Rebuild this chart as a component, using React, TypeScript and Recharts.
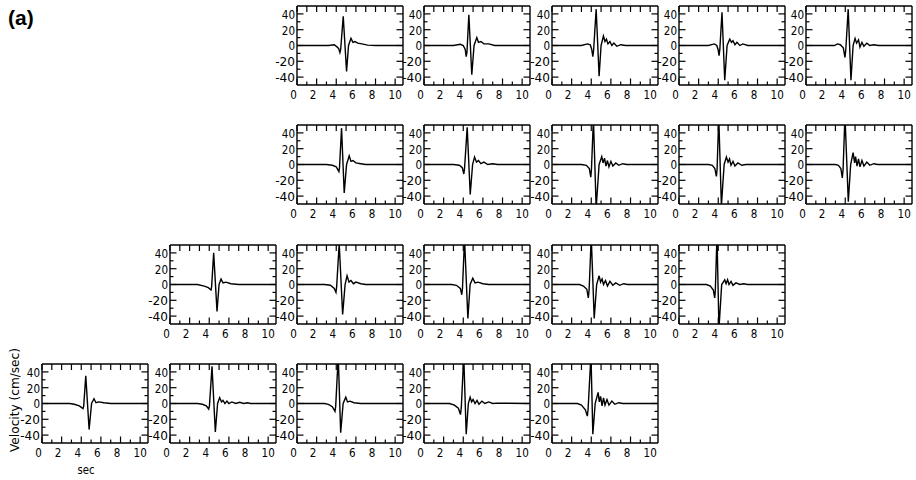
import React from "react";
import { LineChart, Line, XAxis, YAxis } from "recharts";

// axis ticks (sec / cm/sec)
const xTicks = [0, 1, 2, 3, 4, 5, 6, 7, 8, 9, 10];
const yTicks = [-40, -30, -20, -10, 0, 10, 20, 30, 40];

// velocity traces, [time (sec), velocity (cm/sec)]
const r1p1 = [[0, 0], [3.2, 0], [3.8, 1], [4.1, -2], [4.25, -4], [4.37, -9], [4.45, -5], [4.71, 37], [5.05, -33], [5.25, 0], [5.5, 9], [5.7, 4], [5.9, 5], [6.2, 3], [6.6, 2], [7.2, 0.5], [8, 0], [10.8, 0]];
const r1p2 = [[0, 0], [3.0, 0], [3.7, 1.5], [4.0, 0], [4.2, -5], [4.3, -14], [4.38, -8], [4.57, 39], [4.87, -37], [5.1, 0], [5.38, 10], [5.55, 4], [5.8, 5], [6.1, 2], [6.6, 2], [7.2, 0], [10.8, 0]];
const r1p3 = [[0, 0], [3.0, 0], [3.6, 2], [3.9, 1], [4.05, -5], [4.16, -14], [4.24, -6], [4.5, 46], [4.8, -39], [5.0, 0], [5.24, 12], [5.4, 5], [5.55, 8], [5.7, 2], [5.9, 5], [6.1, 0], [6.3, 3], [6.6, -1], [7.0, 1], [7.5, 0], [10.8, 0]];
const r1p4 = [[0, 0], [3.0, 0], [3.6, 2], [3.85, 0], [4.0, -6], [4.08, -13], [4.16, -5], [4.38, 42], [4.66, -44], [4.9, 0], [5.17, 8], [5.35, 4], [5.5, 6], [5.7, 1], [5.9, 4], [6.2, 0], [6.5, 2], [7.0, 0], [10.8, 0]];
const r1p5 = [[0, 0], [2.9, 0], [3.2, 2], [3.5, 1], [3.8, -3], [3.97, -15], [4.05, -6], [4.3, 46], [4.58, -44], [4.8, 0], [5.0, 9], [5.15, 3], [5.35, 7], [5.5, -2], [5.7, 4], [5.9, -1], [6.2, 3], [6.5, 0], [6.9, 1], [7.4, 0], [10.8, 0]];

const r2p1 = [[0, 0], [3.0, 0], [3.6, -1], [4.0, -3], [4.27, -9], [4.33, -4], [4.54, 46], [4.81, -36], [5.05, 0], [5.32, 11], [5.5, 4], [5.7, 5], [6.0, 2], [6.5, 1], [7.0, 0], [10.8, 0]];
const r2p2 = [[0, 0], [3.0, 0], [3.6, -1], [3.9, -4], [4.06, -12], [4.13, -5], [4.4, 47], [4.71, -38], [4.95, 0], [5.15, 9.5], [5.35, 3], [5.55, 5], [5.8, 1], [6.1, 3], [6.5, 0], [7.0, 1], [7.5, 0], [10.8, 0]];
const r2p3 = [[0, 0], [3.0, 0], [3.5, -1], [3.8, -5], [3.95, -16], [4.02, -6], [4.22, 58], [4.5, -55], [4.8, 0], [5.07, 10], [5.2, 2], [5.35, 8], [5.5, -2], [5.65, 5], [5.8, -3], [6.0, 4], [6.2, -2], [6.5, 2], [6.8, -1], [7.2, 1], [7.6, 0], [10.8, 0]];
const r2p4 = [[0, 0], [3.0, 0], [3.4, -1], [3.65, -5], [3.81, -15], [3.88, -6], [4.05, 60], [4.32, -52], [4.6, 0], [4.83, 9.5], [5.0, 3], [5.15, 7], [5.3, -1], [5.5, 4], [5.7, -2], [6.0, 2], [6.4, -1], [6.8, 0], [10.8, 0]];
const r2p5 = [[0, 0], [3.0, 0], [3.3, -1], [3.55, -5], [3.7, -17], [3.78, -6], [3.97, 62], [4.31, -47], [4.55, 0], [4.8, 15], [4.95, 2], [5.05, 10], [5.2, -2], [5.35, 7], [5.5, -3], [5.7, 5], [5.9, -2], [6.2, 3], [6.5, -1], [6.9, 1], [7.3, 0], [10.8, 0]];

const r3p1 = [[0, 0], [2.8, 0], [3.5, -2], [3.9, -4], [4.18, -7], [4.24, -3], [4.45, 40], [4.79, -34], [5.0, 0], [5.2, 7], [5.4, 2], [5.7, 3], [6.2, 1], [7.0, 0], [10.8, 0]];
const r3p2 = [[0, 0], [2.8, 0], [3.4, -1], [3.8, -5], [3.97, -10], [4.04, -3], [4.3, 52], [4.65, -38], [4.9, 0], [5.1, 11], [5.3, 3], [5.5, 5], [5.75, 1], [6.0, 3], [6.5, 1], [7.0, 0], [10.8, 0]];
const r3p3 = [[0, 0], [2.8, 0], [3.3, -1], [3.7, -5], [3.85, -13], [3.92, -5], [4.13, 58], [4.47, -43], [4.7, 0], [4.97, 8], [5.2, 2], [5.5, 3], [6.0, 1], [6.6, 0], [10.8, 0]];
const r3p4 = [[0, 0], [2.8, 0], [3.2, -2], [3.55, -6], [3.7, -17], [3.78, -7], [4.0, 60], [4.3, -43], [4.55, 0], [4.8, 11], [4.95, 3], [5.1, 7], [5.25, 0], [5.45, 5], [5.65, -2], [5.9, 4], [6.2, -1], [6.5, 2], [6.9, -1], [7.3, 1], [7.7, 0], [10.8, 0]];
const r3p5 = [[0, 0], [2.8, 0], [3.2, -2], [3.5, -7], [3.64, -17], [3.7, -8], [3.87, 62], [4.07, -56], [4.35, 0], [4.66, 6], [4.8, 1], [4.95, 6], [5.1, 0], [5.3, 4], [5.5, -1], [5.8, 2], [6.2, 0], [6.6, 1], [7.0, 0], [10.8, 0]];

const r4p1 = [[0, 0], [2.8, 0], [3.3, -1], [3.8, -3], [4.18, -6.5], [4.25, -3], [4.46, 35], [4.8, -33], [5.05, 0], [5.3, 6], [5.5, 1], [5.8, 2], [6.3, 1], [7.0, 0], [10.8, 0]];
const r4p2 = [[0, 0], [2.8, 0], [3.3, -1], [3.7, -3], [3.94, -7], [4.02, -3], [4.28, 47], [4.62, -36], [4.85, 0], [5.06, 7.5], [5.25, 2], [5.4, 4], [5.6, 0], [5.8, 3], [6.0, 0], [6.3, 2], [6.7, 0], [7.1, 1.5], [7.5, 0], [7.9, 1], [8.2, 0], [10.8, 0]];
const r4p3 = [[0, 0], [2.8, 0], [3.2, -1], [3.6, -4], [3.87, -10], [3.94, -4], [4.2, 60], [4.45, -37], [4.7, 0], [4.97, 8], [5.15, 2], [5.4, 3], [5.8, 1], [6.5, 0], [10.8, 0]];
const r4p4 = [[0, 0], [2.6, 0], [3.1, -2], [3.5, -6], [3.72, -14], [3.8, -5], [4.05, 60], [4.3, -39], [4.52, 0], [4.7, 8], [4.85, 2], [5.0, 5], [5.2, 0], [5.4, 4], [5.6, -1], [5.9, 3], [6.2, 0], [6.6, 2], [7.0, 0], [7.5, 0.5], [10.8, 0]];
const r4p5 = [[0, 0], [2.6, 0], [3.0, -2], [3.4, -8], [3.6, -16], [3.68, -7], [3.97, 62], [4.16, -39], [4.4, 0], [4.7, 14], [4.82, 2], [4.95, 9], [5.1, -3], [5.25, 7], [5.4, -2], [5.6, 5], [5.8, -2], [6.1, 3], [6.4, -1], [6.8, 1], [7.2, 0], [10.8, 0]];

// layout of the grid of panels
const rowTop = [6, 125, 245, 364];
const colLeft = [42, 170, 297, 424, 552, 679, 806];

const panels = [
  { trace: r1p1, row: 0, col: 2 },
  { trace: r1p2, row: 0, col: 3 },
  { trace: r1p3, row: 0, col: 4 },
  { trace: r1p4, row: 0, col: 5 },
  { trace: r1p5, row: 0, col: 6 },
  { trace: r2p1, row: 1, col: 2 },
  { trace: r2p2, row: 1, col: 3 },
  { trace: r2p3, row: 1, col: 4 },
  { trace: r2p4, row: 1, col: 5 },
  { trace: r2p5, row: 1, col: 6 },
  { trace: r3p1, row: 2, col: 1 },
  { trace: r3p2, row: 2, col: 2 },
  { trace: r3p3, row: 2, col: 3 },
  { trace: r3p4, row: 2, col: 4 },
  { trace: r3p5, row: 2, col: 5 },
  { trace: r4p1, row: 3, col: 0 },
  { trace: r4p2, row: 3, col: 1 },
  { trace: r4p3, row: 3, col: 2 },
  { trace: r4p4, row: 3, col: 3 },
  { trace: r4p5, row: 3, col: 4 },
];

const BOX_W = 106;
const BOX_H = 79;
const X_MAX = 10.8;
const ML = 26;
const MT = 6;
const MR = 4;
const MB = 18;
const AX = 1; // thickness reserved by each axis

const FONT = "'DejaVu Sans', sans-serif";
const FS = 13;
const CHAR_W = 6.6; // narrow, plotter-style digits
const INK = "#000";
const axisStyle = { stroke: INK, strokeWidth: 1.4 };

function Narrow({ x, y, anchor, children }: { x: number; y: number; anchor: string; children: string }) {
  return (
    <text x={x} y={y} textAnchor={anchor} fontFamily={FONT} fontSize={FS} fill={INK}
      textLength={children.length * CHAR_W} lengthAdjust="spacingAndGlyphs">
      {children}
    </text>
  );
}

function BottomTick(p: any) {
  const v = p.payload.value;
  const major = v % 2 === 0;
  const len = major ? 6.5 : 3.5;
  const label = String(v);
  return (
    <g>
      <line x1={p.x} y1={p.y} x2={p.x} y2={p.y - len} stroke={INK} strokeWidth={1.2} />
      {major && <Narrow x={label.length === 1 ? p.x - 3.5 : p.x} y={p.y + 13.5} anchor="middle">{label}</Narrow>}
    </g>
  );
}

function TopTick(p: any) {
  return <line x1={p.x} y1={p.y} x2={p.x} y2={p.y + 6} stroke={INK} strokeWidth={1.2} />;
}

function LeftTick(p: any) {
  const v = p.payload.value;
  const major = v % 20 === 0;
  const len = major ? 6.5 : 3.5;
  return (
    <g>
      <line x1={p.x} y1={p.y} x2={p.x + len} y2={p.y} stroke={INK} strokeWidth={1.2} />
      {major && <Narrow x={p.x - 2} y={p.y + 4.8} anchor="end">{String(v)}</Narrow>}
    </g>
  );
}

function RightTick(p: any) {
  const major = p.payload.value % 20 === 0;
  const len = major ? 6.5 : 3.5;
  return <line x1={p.x} y1={p.y} x2={p.x - len} y2={p.y} stroke={INK} strokeWidth={1.2} />;
}

function Panel({ trace, left, top }: { trace: number[][]; left: number; top: number }) {
  const data = trace.map(([t, v]) => ({ t, v }));
  return (
    <div style={{ position: "absolute", left: left - ML - AX, top: top - MT - AX }}>
      <LineChart
        width={BOX_W + ML + MR + 2 * AX}
        height={BOX_H + MT + MB + 2 * AX}
        data={data}
        margin={{ top: MT, right: MR, bottom: MB, left: ML }}
        style={{ overflow: "visible" }}
      >
        <XAxis xAxisId="b" type="number" dataKey="t" domain={[0, X_MAX]} allowDataOverflow ticks={xTicks} interval={0}
          height={AX} tickSize={0} tickMargin={0} tickLine={false} axisLine={axisStyle} tick={(p: any) => <BottomTick {...p} />} />
        <XAxis xAxisId="t" orientation="top" type="number" dataKey="t" domain={[0, X_MAX]} allowDataOverflow ticks={xTicks} interval={0}
          height={AX} tickSize={0} tickMargin={0} tickLine={false} axisLine={axisStyle} tick={(p: any) => <TopTick {...p} />} />
        <YAxis yAxisId="l" type="number" domain={[-50, 50]} allowDataOverflow ticks={yTicks} interval={0}
          width={AX} tickSize={0} tickMargin={0} tickLine={false} axisLine={axisStyle} tick={(p: any) => <LeftTick {...p} />} />
        <YAxis yAxisId="r" orientation="right" type="number" domain={[-50, 50]} allowDataOverflow ticks={yTicks} interval={0}
          width={AX} tickSize={0} tickMargin={0} tickLine={false} axisLine={axisStyle} tick={(p: any) => <RightTick {...p} />} />
        <Line xAxisId="b" yAxisId="l" type="linear" dataKey="v" dot={false} activeDot={false}
          stroke={INK} strokeWidth={1.4} isAnimationActive={false} />
      </LineChart>
    </div>
  );
}

export default function App() {
  return (
    <div style={{ position: "absolute", left: 0, top: 0, width: 916, height: 480, background: "#fff", overflow: "hidden" }}>
      {panels.map((p, i) => (
        <Panel key={i} trace={p.trace} left={colLeft[p.col]} top={rowTop[p.row]} />
      ))}
      <svg width={916} height={480} style={{ position: "absolute", left: 0, top: 0, pointerEvents: "none" }}>
        <text x={8} y={25} fontFamily="'Liberation Sans', Arial, sans-serif" fontWeight="bold" fontSize={21} fill={INK}>(a)</text>
        <text x={14} y={400} transform="rotate(-90 14 400)" textAnchor="middle" dominantBaseline="central"
          fontFamily={FONT} fontSize={13} fill={INK} textLength={104} lengthAdjust="spacingAndGlyphs">Velocity  (cm/sec)</text>
        <text x={86} y={474} textAnchor="middle" fontFamily={FONT} fontSize={12} fill={INK}
          textLength={17} lengthAdjust="spacingAndGlyphs">sec</text>
      </svg>
    </div>
  );
}
